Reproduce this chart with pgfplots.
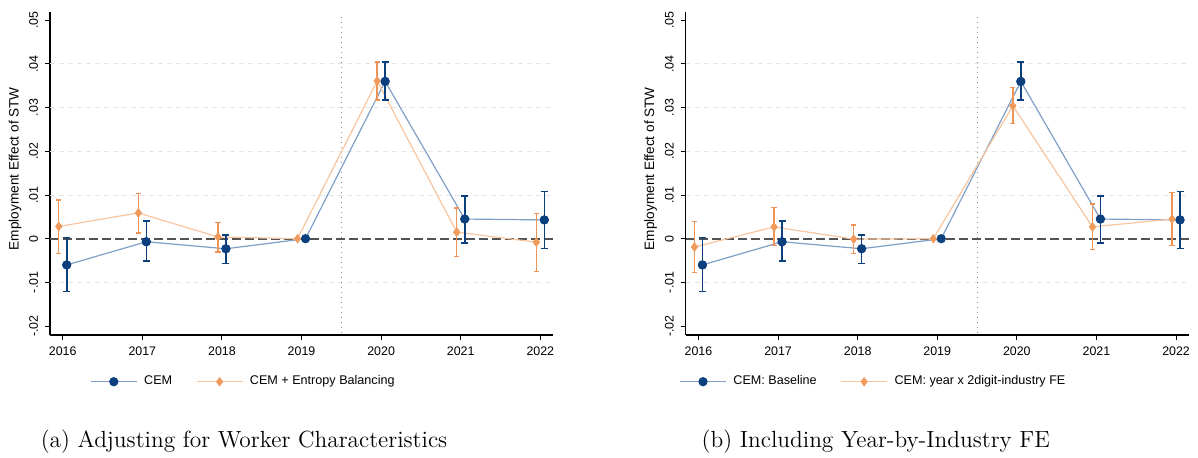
\documentclass[border=0pt]{standalone}
\usepackage{fontspec}
\newfontfamily\arial{Liberation Sans}
\usepackage{pgfplots}
\pgfplotsset{compat=1.18}
\usepackage{pgfplotstable}

\definecolor{navy}{HTML}{0B3F7E}
\definecolor{lblue}{HTML}{7F9FC6}
\definecolor{orgm}{HTML}{F09A5C}
\definecolor{orgl}{HTML}{F7C59F}
\definecolor{orge}{HTML}{EE9458}

% blue series (CEM / CEM: Baseline)
\pgfplotstableread{
x y ep em
2016.05 -0.0060 0.0063 0.0061
2017.05 -0.0007 0.0047 0.0044
2018.05 -0.0023 0.0032 0.0034
2019.05 0 0 0
2020.05 0.0360 0.0044 0.0043
2021.05 0.0045 0.0053 0.0055
2022.05 0.0043 0.0065 0.0065
}\blueAll
\pgfplotstableread{
x y ep em
2016.05 -0.0060 0.0063 0.0061
2017.05 -0.0007 0.0047 0.0044
2018.05 -0.0023 0.0032 0.0034
2020.05 0.0360 0.0044 0.0043
2021.05 0.0045 0.0053 0.0055
2022.05 0.0043 0.0065 0.0065
}\blueErr
% orange, panel a (CEM + Entropy Balancing)
\pgfplotstableread{
x y ep em
2015.95 0.0028 0.0061 0.0062
2016.95 0.0059 0.0045 0.0046
2017.95 0.0004 0.0033 0.0034
2018.95 0 0 0
2019.95 0.0361 0.0043 0.0044
2020.95 0.0015 0.0055 0.0056
2021.95 -0.0008 0.0066 0.0067
}\orAAll
\pgfplotstableread{
x y ep em
2015.95 0.0028 0.0061 0.0062
2016.95 0.0059 0.0045 0.0046
2017.95 0.0004 0.0033 0.0034
2019.95 0.0361 0.0043 0.0044
2020.95 0.0015 0.0055 0.0056
2021.95 -0.0008 0.0066 0.0067
}\orAErr
% orange, panel b (year x 2digit-industry FE)
\pgfplotstableread{
x y ep em
2015.95 -0.0019 0.0058 0.0058
2016.95 0.0027 0.0044 0.0043
2017.95 -0.0001 0.0032 0.0033
2018.95 0 0 0
2019.95 0.0304 0.0042 0.0040
2020.95 0.0027 0.0052 0.0052
2021.95 0.0045 0.0061 0.0061
}\orBAll
\pgfplotstableread{
x y ep em
2015.95 -0.0019 0.0058 0.0058
2016.95 0.0027 0.0044 0.0043
2017.95 -0.0001 0.0032 0.0033
2019.95 0.0304 0.0042 0.0040
2020.95 0.0027 0.0052 0.0052
2021.95 0.0045 0.0061 0.0061
}\orBErr

\pgfplotsset{
  stw/.style={
    scale only axis, width=251.65pt, height=161.5pt,
    xmin=2015.84, xmax=2022.163, ymin=-0.02204, ymax=0.05188,
    axis x line*=bottom, axis y line*=left,
    axis line style={-, line width=0.6pt, black},
    scaled y ticks=false, scaled x ticks=false,
    xtick={2016,2017,2018,2019,2020,2021,2022},
    xticklabels={2016,2017,2018,2019,2020,2021,2022},
    ytick={-0.02,-0.01,0,0.01,0.02,0.03,0.04,0.05},
    yticklabels={-.02,-.01,0,.01,.02,.03,.04,.05},
    extra y ticks={-0.01,0.01,0.02,0.03,0.04},
    extra y tick labels={},
    extra y tick style={ymajorgrids=true, major tick length=0pt,
      major grid style={draw=black!10, line width=0.45pt, dash pattern=on 2.5pt off 2pt}},
    tick align=outside, major tick length=2.5pt,
    tick style={black, line width=0.5pt},
    minor tick num=0,
    ticklabel style={font=\arial\fontsize{6.2}{7}\selectfont},
    yticklabel style={rotate=90, anchor=south},
    ylabel={Employment Effect of STW},
    ylabel style={font=\arial\fontsize{6.8}{8}\selectfont, at={(axis description cs:-0.0695,0.515)}, anchor=center},
    legend image code/.code={\draw[mark repeat=2,mark phase=2,##1] plot coordinates {(0pt,0pt) (11.5pt,0pt) (23pt,0pt)};},
    legend style={draw=none, fill=none, legend columns=2, inner sep=0pt,
      font=\arial\fontsize{6.3}{7}\selectfont,
      nodes={inner xsep=3.4pt},
      /tikz/every even column/.append style={column sep=8.5pt}},
    clip=false,
  },
  bline/.style={lblue, line width=0.6pt, mark=*, mark size=2pt, mark options={navy, fill=navy, solid}},
  oline/.style={orgl, line width=0.6pt, mark=diamond*, mark size=1.9pt, mark options={orgm, fill=orgm, solid}},
  berr/.style={navy, only marks, mark=*, mark size=2pt, mark options={navy, fill=navy}, forget plot,
    error bars/.cd, y dir=both, y explicit, error mark=|,
    error bar style={navy, line width=0.8pt},
    error mark options={navy, mark size=1.75pt, line width=0.8pt}},
  oerr/.style={orge, only marks, mark=diamond*, mark size=1.9pt, mark options={orgm, fill=orgm}, forget plot,
    error bars/.cd, y dir=both, y explicit, error mark=|,
    error bar style={orge, line width=0.7pt},
    error mark options={orge, mark size=1.3pt, line width=0.7pt}},
}

\begin{document}
\begin{tikzpicture}
\path[use as bounding box] (0,0) rectangle (599pt,228.5pt);

% ---------- panel (a) ----------
\begin{axis}[stw, at={(25pt,61pt)}, anchor=south west,
  legend style={at={(axis description cs:0.389,-0.1446)}, anchor=center}]
  \draw[black!45, dotted, line width=0.5pt] (axis cs:2019.5,-0.0216) -- (axis cs:2019.5,0.0514);
  \draw[black!68, line width=0.85pt, dash pattern=on 4.5pt off 2pt] (axis cs:2015.84,0) -- (axis cs:2022.163,0);
  \addplot[bline] table[x=x,y=y] {\blueAll};
  \addlegendentry{CEM}
  \addplot[oline] table[x=x,y=y] {\orAAll};
  \addlegendentry{CEM + Entropy Balancing}
  \addplot[oerr] table[x=x,y=y,y error plus=ep,y error minus=em] {\orAErr};
  \addplot[berr] table[x=x,y=y,y error plus=ep,y error minus=em] {\blueErr};
\end{axis}

% ---------- panel (b) ----------
\begin{axis}[stw, at={(342.85pt,61pt)}, anchor=south west,
  legend style={at={(axis description cs:0.3777,-0.1446)}, anchor=center}]
  \draw[black!45, dotted, line width=0.5pt] (axis cs:2019.5,-0.0216) -- (axis cs:2019.5,0.0514);
  \draw[black!68, line width=0.85pt, dash pattern=on 4.5pt off 2pt] (axis cs:2015.84,0) -- (axis cs:2022.163,0);
  \addplot[bline] table[x=x,y=y] {\blueAll};
  \addlegendentry{CEM: Baseline}
  \addplot[oline] table[x=x,y=y] {\orBAll};
  \addlegendentry{CEM: year x 2digit-industry FE}
  \addplot[oerr] table[x=x,y=y,y error plus=ep,y error minus=em] {\orBErr};
  \addplot[berr] table[x=x,y=y,y error plus=ep,y error minus=em] {\blueErr};
\end{axis}

\node[font=\fontsize{11.7}{14}\selectfont, anchor=base] at (122pt,4.75pt) {(a) Adjusting for Worker Characteristics};
\node[font=\fontsize{11.7}{14}\selectfont, anchor=base] at (437.9pt,4.75pt) {(b) Including Year-by-Industry FE};
\end{tikzpicture}
\end{document}
